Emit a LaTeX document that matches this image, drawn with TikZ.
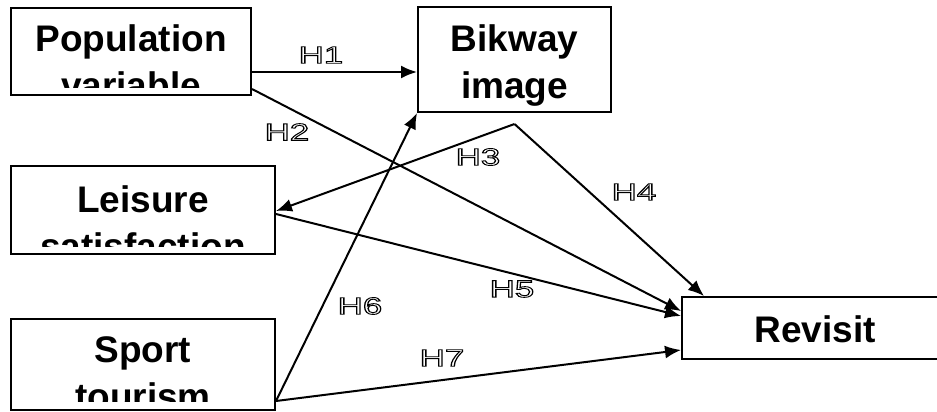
\documentclass[tikz,border=0pt]{standalone}
\usepackage{fontspec}
\setmainfont{Liberation Sans}
\usetikzlibrary{arrows.meta,calc}
\tikzset{
  box/.style={draw, line width=2pt, inner sep=0pt, fill=white},
  boxtxt/.style={anchor=base, inner sep=0pt, font=\fontsize{37}{47}\bfseries\selectfont},
  arr/.style={line width=2pt, -{Latex[length=16pt,width=13pt]}},
  lab/.style={inner sep=0pt, font=\fontsize{24}{26}\selectfont}
}
\newcommand{\hlab}[1]{\scalebox{1.45}[1]{\special{pdf:literal direct 1 Tr 0.9 w}#1\special{pdf:literal direct 0 Tr}}}
\begin{document}
\begin{tikzpicture}[x=1pt,y=-1pt]
\useasboundingbox (0,0) rectangle (937,412);
\begin{scope}
\clip (0,0) rectangle (937,412);
% boxes
\node[box, minimum width=240pt, minimum height=87pt] (pop) at (131,51.5) {};
\node[box, minimum width=193pt, minimum height=105pt] (bik) at (514.5,59.5) {};
\node[box, minimum width=264pt, minimum height=88pt] (lei) at (143,210) {};
\node[box, minimum width=264pt, minimum height=91pt] (spo) at (143,364.5) {};
\node[box, minimum width=266pt, minimum height=62pt] (rev) at (815,328) {};
% box texts (clipped to the inner area)
\begin{scope}
\clip ([yshift=9pt]pop.south west) rectangle (pop.north east);
\node[boxtxt] (popa) at ([yshift=-45pt]pop.north) {Population};
\node[boxtxt] (popb) at ([yshift=-92pt]pop.north) {variable};
\end{scope}
\begin{scope}
\clip ([yshift=8pt]bik.south west) rectangle (bik.north east);
\node[boxtxt] (bika) at ([yshift=-46pt]bik.north) {Bikway};
\node[boxtxt] (bikb) at ([yshift=-93pt]bik.north) {image};
\end{scope}
\begin{scope}
\clip ([yshift=9pt]lei.south west) rectangle (lei.north east);
\node[boxtxt] (leia) at ([yshift=-47pt]lei.north) {Leisure};
\node[boxtxt] (leib) at ([yshift=-94pt]lei.north) {satisfaction};
\end{scope}
\begin{scope}
\clip ([yshift=10pt]spo.south west) rectangle (spo.north east);
\node[boxtxt] (spoa) at ([yshift=-44pt]spo.north) {Sport};
\node[boxtxt] (spob) at ([yshift=-91pt]spo.north) {tourism};
\end{scope}
\node[boxtxt] (reva) at ([yshift=-46pt]rev.north) {Revisit};
% connector points
\coordinate (h1s) at ([yshift=-20.5pt]pop.east);
\coordinate (apex) at ([yshift=-11pt]bik.south);
\coordinate (sps) at ([yshift=10pt]spo.south east);
% connectors
\draw[arr] (h1s) -- (h1s -| bik.west);
\draw[arr] ([yshift=7pt]pop.south east) -- ([yshift=-15pt]rev.north west);
\draw[arr] (apex) -- ([yshift=-1pt]lei.east);
\draw[arr] (apex) -- ([xshift=23pt]rev.north west);
\draw[arr] ([yshift=-4pt]lei.east) -- ([yshift=-20pt]rev.north west);
\draw[arr] (sps) -- (bik.south west);
\draw[arr] (sps) -- ([yshift=10pt]rev.south west);
% labels
\node[lab] (l1) at (321,55) {\hlab{H1}};
\node[lab] (l2) at (287,132) {\hlab{H2}};
\node[lab] (l3) at (478,157) {\hlab{H3}};
\node[lab] (l4) at (634,192) {\hlab{H4}};
\node[lab] (l5) at (512,289) {\hlab{H5}};
\node[lab] (l6) at (360,306) {\hlab{H6}};
\node[lab] (l7) at (442,358) {\hlab{H7}};
\end{scope}
\end{tikzpicture}
\end{document}
